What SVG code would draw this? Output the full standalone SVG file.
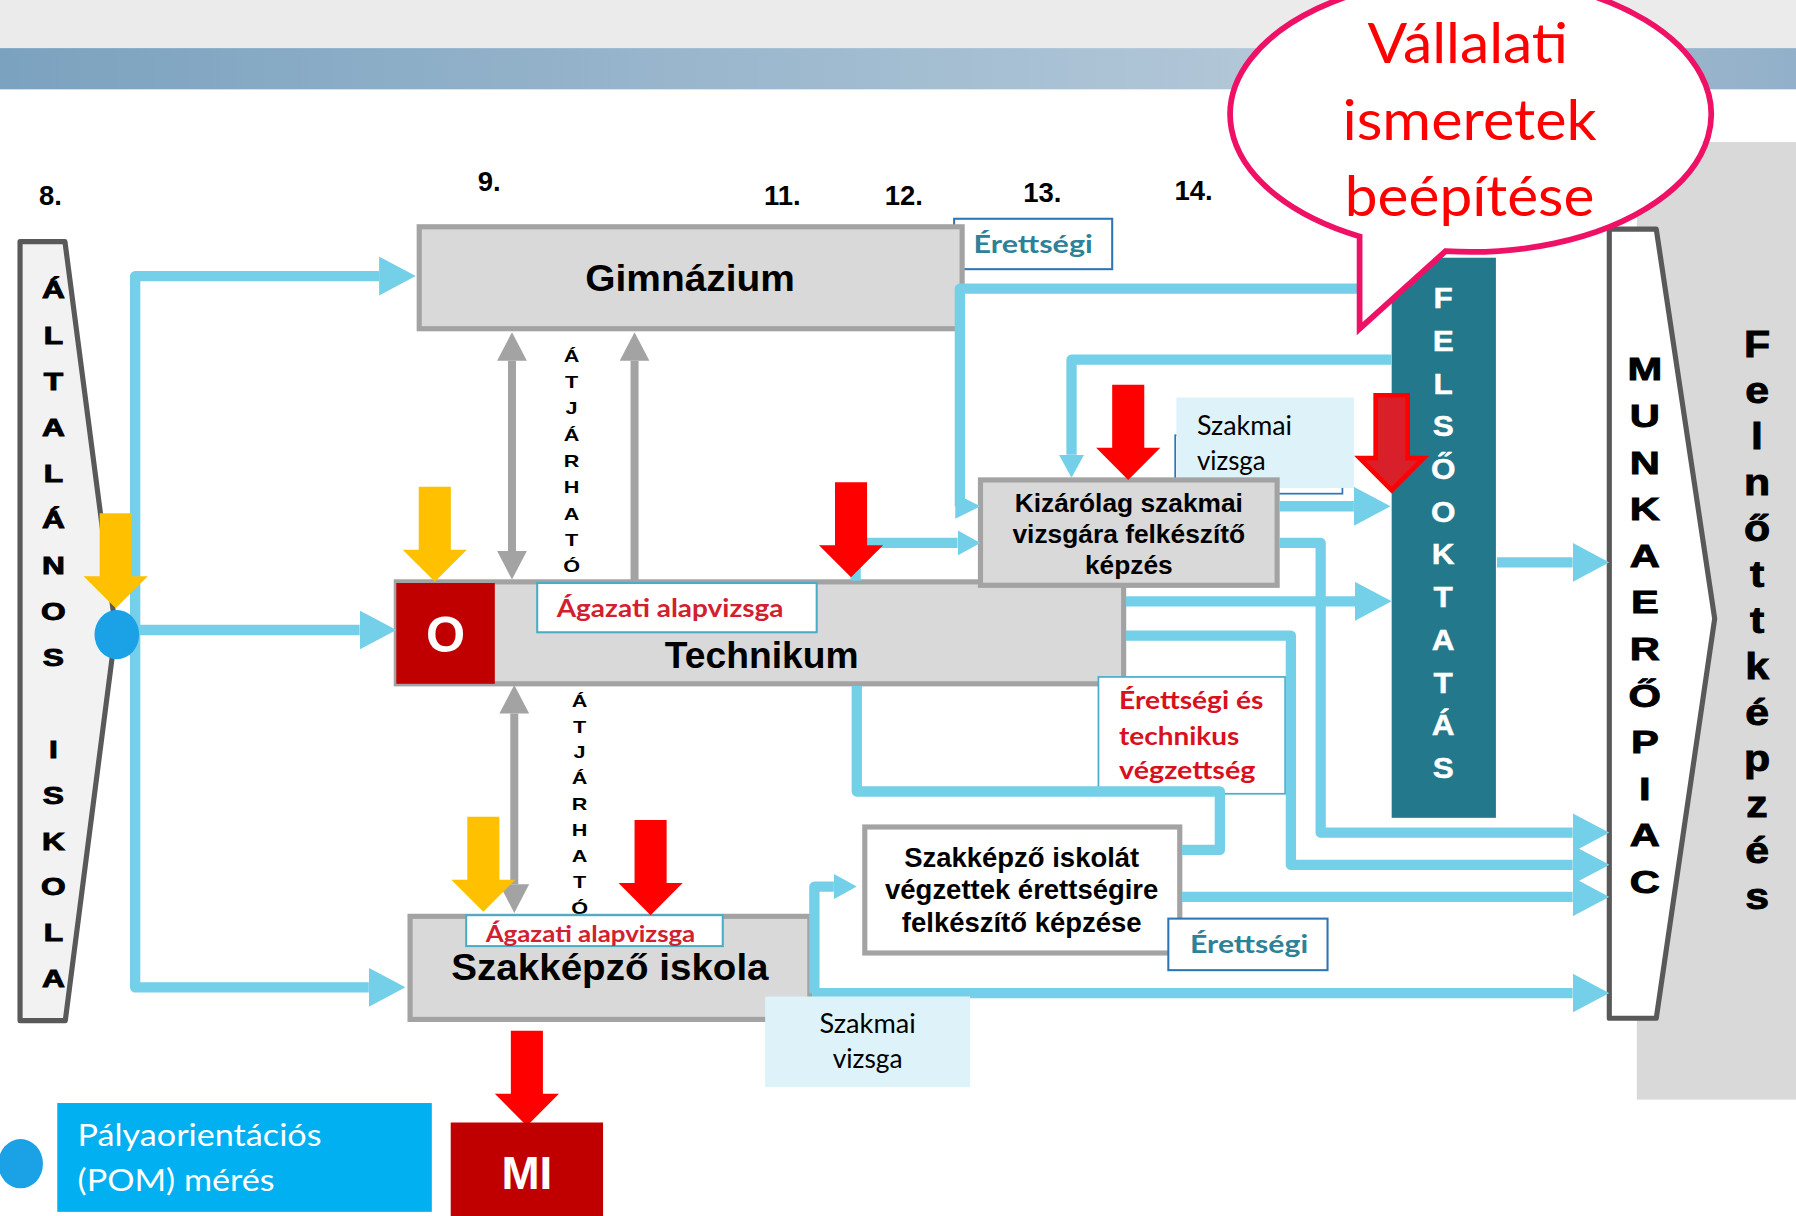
<svg xmlns="http://www.w3.org/2000/svg" width="1796" height="1216" viewBox="0 0 1796 1216">
<defs>
<linearGradient id="band" x1="0" y1="0" x2="1" y2="0">
<stop offset="0" stop-color="#7BA2BF"/>
<stop offset="0.7" stop-color="#B2C7D8"/>
<stop offset="1" stop-color="#92B0C9"/>
</linearGradient>
<marker id="ab" markerUnits="userSpaceOnUse" viewBox="0 0 32 34" markerWidth="32" markerHeight="34" refX="0" refY="17" orient="auto"><path d="M0,0 L32,17 L0,34 Z" fill="#74D0E8"/></marker>
<marker id="as" markerUnits="userSpaceOnUse" viewBox="0 0 20 22" markerWidth="20" markerHeight="22" refX="0" refY="11" orient="auto"><path d="M0,0 L20,11 L0,22 Z" fill="#74D0E8"/></marker>
<marker id="ag" markerUnits="userSpaceOnUse" viewBox="0 0 25 26" markerWidth="25" markerHeight="26" refX="0" refY="13" orient="auto-start-reverse"><path d="M0,0 L25,13 L0,26 Z" fill="#A3A3A3"/></marker>
<path id="darr" d="M-14,0 H14 V55 H28 L0,83 L-28,55 H-14 Z"/>
<style>
.box{fill:#D9D9D9;stroke:#A3A3A3;stroke-width:4.5}
.wbox{fill:#FFFFFF;stroke:#A3A3A3;stroke-width:4.5}
.lbl{fill:#FFFFFF;stroke:#4BACC6;stroke-width:1.8}
.lblb{fill:#FFFFFF;stroke:#2E75B6;stroke-width:1.8}
.cyan{fill:#DDF3F9}
.c{fill:none;stroke:#74D0E8;stroke-width:9;stroke-linejoin:round}
.g{fill:none;stroke:#A3A3A3;stroke-width:7}
.ar{font-family:"Liberation Sans",Arial,sans-serif;font-weight:bold;fill:#000000}
.lt{font-family:Lato,"Open Sans","Liberation Sans",sans-serif}
.stk{stroke:#000000;stroke-width:0.8}
.red{fill:#D2202E;font-weight:bold}
.teal{fill:#2E8197;font-weight:bold}
.mid{text-anchor:middle}
</style>
</defs>
<rect width="1796" height="1216" fill="#FFFFFF"/>
<g transform="scale(1.14541)">
<rect x="0" y="0" width="1568" height="42" fill="#EBEBEB"/>
<rect x="0" y="42" width="1568" height="36" fill="url(#band)"/>

<g id="years" class="ar mid" font-size="24">
<text x="44" y="179">8.</text>
<text x="427" y="167">9.</text>
<text x="683" y="179">11.</text>
<text x="789" y="179">12.</text>
<text x="910" y="176">13.</text>
<text x="1042" y="175">14.</text>
</g>

<g id="felnottkepzes">
<rect x="1429" y="124" width="139" height="836" fill="#D9D9D9"/>
<g transform="translate(1534 0) scale(1.15 1)" class="ar mid stk" font-size="32.5">
<text y="311.4">F</text><text y="351.6">e</text><text y="391.8">l</text><text y="432">n</text><text y="472.2">ő</text><text y="512.4">t</text><text y="552.6">t</text><text y="592.8">k</text><text y="633">é</text><text y="673.2">p</text><text y="713.4">z</text><text y="753.6">é</text><text y="793.8">s</text>
</g>
</g>

<g id="munkaeropiac">
<polygon points="1405,200 1446,200 1497,540 1446,889 1405,889" fill="#FFFFFF" stroke="#595959" stroke-width="4.5" stroke-linejoin="round"/>
<g transform="translate(1436 0) scale(1.3 1)" class="ar mid stk" font-size="28">
<text y="332">M</text><text y="372.7">U</text><text y="413.4">N</text><text y="454.1">K</text><text y="494.8">A</text><text y="535.5">E</text><text y="576.2">R</text><text y="616.9">Ő</text><text y="657.6">P</text><text y="698.3">I</text><text y="739">A</text><text y="779.7">C</text>
</g>
</g>

<g id="felsooktatas">
<rect x="1215" y="225" width="91" height="489" fill="#23788C"/>
<g transform="translate(1260 0) scale(1.1 1)" class="ar mid" font-size="25" style="fill:#FFFFFF;stroke:#FFFFFF;stroke-width:0.4">
<text y="269">F</text><text y="306.3">E</text><text y="343.6">L</text><text y="380.9">S</text><text y="418.2">Ő</text><text y="455.5">O</text><text y="492.8">K</text><text y="530.1">T</text><text y="567.4">A</text><text y="604.7">T</text><text y="642">Á</text><text y="679.3">S</text>
</g>
</g>

<g id="altalanos-iskola">
<polygon points="17.5,211 56.7,211 101,550 57,891 17.5,891" fill="#F2F2F2" stroke="#595959" stroke-width="4.5" stroke-linejoin="round"/>
<g transform="translate(46.6 0) scale(1.35 1)" class="ar mid stk" font-size="20.5">
<text y="260.5">Á</text><text y="300.6">L</text><text y="340.7">T</text><text y="380.8">A</text><text y="420.9">L</text><text y="461">Á</text><text y="501.1">N</text><text y="541.2">O</text><text y="581.3">S</text>
<text y="661.5">I</text><text y="701.6">S</text><text y="741.7">K</text><text y="781.8">O</text><text y="821.9">L</text><text y="862">A</text>
</g>
</g>

<g id="atjarhato-1" transform="translate(499 0) scale(1.35 1)" class="ar mid" font-size="14">
<text y="315.7">Á</text><text y="338.7">T</text><text y="361.7">J</text><text y="384.7">Á</text><text y="407.7">R</text><text y="430.7">H</text><text y="453.7">A</text><text y="476.7">T</text><text y="499.7">Ó</text>
</g>
<g id="atjarhato-2" transform="translate(506 0) scale(1.35 1)" class="ar mid" font-size="14">
<text y="617">Á</text><text y="639.6">T</text><text y="662.2">J</text><text y="684.8">Á</text><text y="707.4">R</text><text y="730">H</text><text y="752.6">A</text><text y="775.2">T</text><text y="797.8">Ó</text>
</g>

<g id="erettsegi-1">
<rect class="lblb" x="833" y="191" width="138" height="44"/>
<text class="lt teal" x="850" y="220.5" font-size="22" textLength="104" lengthAdjust="spacingAndGlyphs">Érettségi</text>
</g>

<g id="gimnazium">
<rect class="box" x="366" y="198" width="474" height="89"/>
<text class="ar mid" x="602.5" y="254" font-size="33" textLength="183" lengthAdjust="spacingAndGlyphs">Gimnázium</text>
</g>

<g id="technikum">
<rect class="box" x="346" y="508" width="635" height="89"/>
<text class="ar mid" x="665" y="583" font-size="32.5">Technikum</text>
</g>
<g id="o-jel">
<rect x="346" y="509" width="86" height="88" fill="#C00000"/>
<text class="ar mid" x="389" y="569" font-size="44" style="fill:#FFFFFF">O</text>
</g>
<g id="agazati-1">
<rect class="lbl" x="469" y="509" width="244" height="43"/>
<text class="lt red" x="486" y="539" font-size="22" textLength="198" lengthAdjust="spacingAndGlyphs">Ágazati alapvizsga</text>
</g>

<g id="szakkepzo-iskola">
<rect class="box" x="358" y="800" width="349" height="90"/>
<text class="ar" x="394" y="856" font-size="32.5" textLength="277" lengthAdjust="spacingAndGlyphs">Szakképző iskola</text>
</g>
<g id="agazati-2">
<rect class="lbl" x="407" y="799" width="224" height="27"/>
<text class="lt red" x="424" y="822" font-size="20.5" textLength="183" lengthAdjust="spacingAndGlyphs">Ágazati alapvizsga</text>
</g>

<g id="szakmai-vizsga-1">
<rect x="1026" y="380" width="146" height="51" fill="none" stroke="#2E75B6" stroke-width="1.5"/>
<rect class="cyan" x="1027" y="347" width="155" height="79"/>
<text class="lt" x="1045" y="380" font-size="23" textLength="83" lengthAdjust="spacingAndGlyphs" fill="#000000">Szakmai</text>
<text class="lt" x="1045" y="410" font-size="23" textLength="60" lengthAdjust="spacingAndGlyphs" fill="#000000">vizsga</text>
</g>

<g id="kizarolag">
<rect class="box" x="856" y="419" width="259" height="92"/>
<text class="ar mid" x="985.5" y="447" font-size="23">Kizárólag szakmai</text>
<text class="ar mid" x="985.5" y="474.5" font-size="23">vizsgára felkészítő</text>
<text class="ar mid" x="985.5" y="501" font-size="23">képzés</text>
</g>

<g id="szakkepzo-erettsegi">
<rect class="wbox" x="755" y="722" width="275" height="110"/>
<text class="ar mid" x="892" y="757" font-size="24">Szakképző iskolát</text>
<text class="ar mid" x="892" y="784.5" font-size="24">végzettek érettségire</text>
<text class="ar mid" x="892" y="813.5" font-size="24">felkészítő képzése</text>
</g>

<g id="erettsegi-technikus">
<rect class="lbl" x="959" y="591" width="163" height="102" style="stroke-width:1.5"/>
<text class="lt" x="977" y="619" font-size="22" textLength="126" lengthAdjust="spacingAndGlyphs" style="fill:#D9101E;font-weight:bold">Érettségi és</text>
<text class="lt" x="977" y="650" font-size="22" textLength="105" lengthAdjust="spacingAndGlyphs" style="fill:#D9101E;font-weight:bold">technikus</text>
<text class="lt" x="977" y="680.5" font-size="22" textLength="119" lengthAdjust="spacingAndGlyphs" style="fill:#D9101E;font-weight:bold">végzettség</text>
</g>

<g id="erettsegi-2">
<rect class="lblb" x="1020" y="802" width="139" height="45"/>
<text class="lt teal" x="1039" y="832" font-size="22" textLength="103" lengthAdjust="spacingAndGlyphs">Érettségi</text>
</g>

<g id="connectors">
<path class="c" d="M118,552 V241 H331" marker-end="url(#ab)"/>
<path class="c" d="M118,552 V862 H322" marker-end="url(#ab)"/>
<path class="c" d="M120,550 H314" marker-end="url(#ab)"/>
<path class="c" d="M1215,252 H838 V442"/>
<polygon points="834,431 856,442 834,453" fill="#74D0E8"/>
<path class="c" d="M747,507 V474 H836" marker-end="url(#as)"/>
<path class="c" d="M1215,314 H935.5 V397" marker-end="url(#as)"/>
<path class="c" d="M1117,442 H1182" marker-end="url(#ab)"/>
<path class="c" d="M983,525 H1183" marker-end="url(#ab)"/>
<path class="c" d="M1117,474 H1153 V727 H1373" marker-end="url(#ab)"/>
<path class="c" d="M983,555 H1127 V755 H1373" marker-end="url(#ab)"/>
<path class="c" d="M1307,491 H1373" marker-end="url(#ab)"/>
<path class="c" d="M748,599 V691 H1065 V742 H1032"/>
<path class="c" d="M1032,783 H1373" marker-end="url(#ab)"/>
<path class="c" d="M711,867 V774 H728" marker-end="url(#as)"/>
<path class="c" d="M709,867 H1373" marker-end="url(#ab)"/>
<path class="g" d="M447,315 V481" marker-start="url(#ag)" marker-end="url(#ag)"/>
<path class="g" d="M554,507 V315" marker-end="url(#ag)"/>
<path class="g" d="M449,623 V772" marker-start="url(#ag)" marker-end="url(#ag)"/>
</g>

<g id="szakmai-vizsga-2">
<rect class="cyan" x="668" y="870" width="179" height="79"/>
<text class="lt mid" x="757.5" y="902" font-size="23" textLength="84" lengthAdjust="spacingAndGlyphs" fill="#000000">Szakmai</text>
<text class="lt mid" x="757.5" y="932.6" font-size="23" textLength="61" lengthAdjust="spacingAndGlyphs" fill="#000000">vizsga</text>
</g>

<g id="pom-pont">
<ellipse cx="102" cy="554" rx="19.5" ry="21.5" fill="#1BA1E6"/>
</g>

<g id="jelzo-nyilak">
<use href="#darr" x="101" y="448" fill="#FFC000"/>
<use href="#darr" x="379.6" y="425" fill="#FFC000"/>
<use href="#darr" x="422" y="713" fill="#FFC000"/>
<use href="#darr" x="743" y="421" fill="#FF0000"/>
<use href="#darr" x="985" y="336" fill="#FF0000"/>
<use href="#darr" x="568" y="716" fill="#FF0000"/>
<use href="#darr" x="460" y="900" fill="#FF0000"/>
<use href="#darr" x="1215" y="345" fill="#D9202A" stroke="#FF0000" stroke-width="4"/>
</g>

<g id="mi">
<rect x="393.5" y="980" width="133" height="90" fill="#C00000"/>
<text class="ar mid" x="460" y="1038" font-size="40" style="fill:#FFFFFF">MI</text>
</g>

<g id="pom-jelmagyarazat">
<ellipse cx="18" cy="1016" rx="19.5" ry="21.5" fill="#1BA1E6"/>
<rect x="50" y="963" width="327" height="95" fill="#00B0F0"/>
<text class="lt" x="67.7" y="1000.6" font-size="26.5" textLength="213" lengthAdjust="spacingAndGlyphs" fill="#FFFFFF">Pályaorientációs</text>
<text class="lt" x="67.7" y="1040" font-size="26.5" textLength="172" lengthAdjust="spacingAndGlyphs" fill="#FFFFFF">(POM) mérés</text>
</g>

<g id="callout">
<path d="M1262,219.3 A210,120 0 1 0 1187,206.4 L1187,287 Z" fill="#FFFFFF" stroke="#EE1166" stroke-width="5" stroke-linejoin="miter"/>
<text class="lt mid" x="1281.5" y="55" font-size="49" textLength="175" lengthAdjust="spacingAndGlyphs" fill="#FF0000">Vállalati</text>
<text class="lt mid" x="1283" y="122" font-size="49" textLength="222" lengthAdjust="spacingAndGlyphs" fill="#FF0000">ismeretek</text>
<text class="lt mid" x="1283" y="189" font-size="49" textLength="218" lengthAdjust="spacingAndGlyphs" fill="#FF0000">beépítése</text>
</g>
</g>
</svg>
